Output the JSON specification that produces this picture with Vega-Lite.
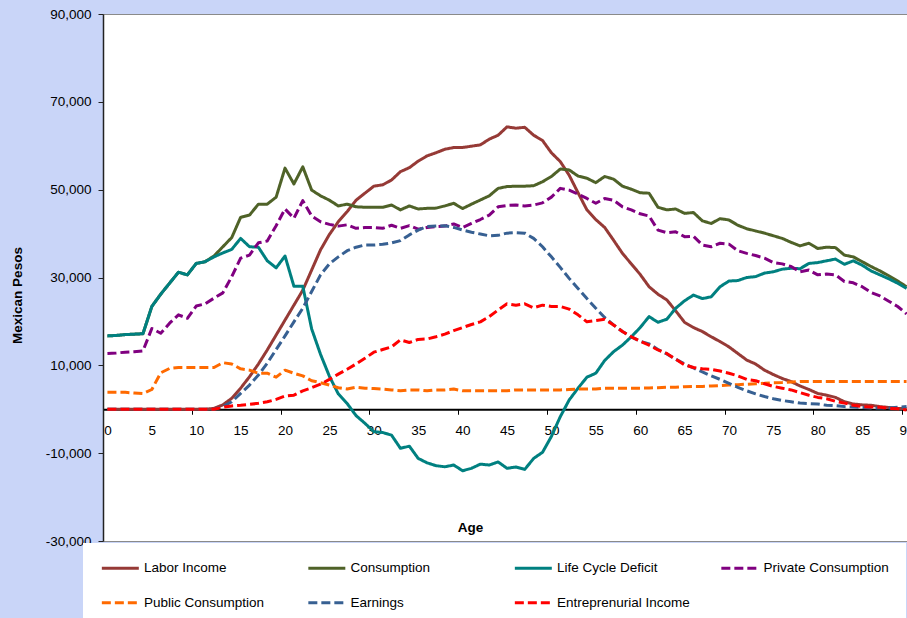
{
"$schema": "https://vega.github.io/schema/vega-lite/v6.json",
"width": 804,
"height": 527,
"autosize": {"type": "none"},
"padding": {"left": 103, "top": 14, "right": 0, "bottom": 77},
"background": "#c9d5f8",
"config": {"view": {"fill": "white", "stroke": "#8a8a8a", "strokeWidth": 1}, "font": "Liberation Sans",
 "legend": {"title": null, "orient": "none", "legendX": -20, "legendY": 529, "direction": "horizontal", "columns": 4, "gridAlign": "all",
  "columnPadding": 24.5, "rowPadding": 19.7, "padding": 17, "fillColor": "white", "symbolType": "M-1,0H5", "symbolSize": 152,
  "symbolStrokeWidth": 3, "labelFontSize": 13.5, "labelColor": "black", "labelOffset": 28, "labelLimit": 300}},
"data": {"values": [
{"age":0,"series":"Labor Income","value":0},{"age":1,"series":"Labor Income","value":0},{"age":2,"series":"Labor Income","value":0},{"age":3,"series":"Labor Income","value":0},{"age":4,"series":"Labor Income","value":0},{"age":5,"series":"Labor Income","value":0},{"age":6,"series":"Labor Income","value":0},{"age":7,"series":"Labor Income","value":0},{"age":8,"series":"Labor Income","value":0},{"age":9,"series":"Labor Income","value":0},{"age":10,"series":"Labor Income","value":0},{"age":11,"series":"Labor Income","value":0},{"age":12,"series":"Labor Income","value":200},{"age":13,"series":"Labor Income","value":1000},{"age":14,"series":"Labor Income","value":2500},{"age":15,"series":"Labor Income","value":4800},{"age":16,"series":"Labor Income","value":7400},{"age":17,"series":"Labor Income","value":10300},{"age":18,"series":"Labor Income","value":13500},{"age":19,"series":"Labor Income","value":16900},{"age":20,"series":"Labor Income","value":20300},{"age":21,"series":"Labor Income","value":23700},{"age":22,"series":"Labor Income","value":27100},{"age":23,"series":"Labor Income","value":31700},{"age":24,"series":"Labor Income","value":36300},{"age":25,"series":"Labor Income","value":39800},{"age":26,"series":"Labor Income","value":42700},{"age":27,"series":"Labor Income","value":45000},{"age":28,"series":"Labor Income","value":47600},{"age":29,"series":"Labor Income","value":49200},{"age":30,"series":"Labor Income","value":50800},{"age":31,"series":"Labor Income","value":51100},{"age":32,"series":"Labor Income","value":52200},{"age":33,"series":"Labor Income","value":54100},{"age":34,"series":"Labor Income","value":55000},{"age":35,"series":"Labor Income","value":56500},{"age":36,"series":"Labor Income","value":57700},{"age":37,"series":"Labor Income","value":58400},{"age":38,"series":"Labor Income","value":59200},{"age":39,"series":"Labor Income","value":59600},{"age":40,"series":"Labor Income","value":59600},{"age":41,"series":"Labor Income","value":59900},{"age":42,"series":"Labor Income","value":60200},{"age":43,"series":"Labor Income","value":61500},{"age":44,"series":"Labor Income","value":62400},{"age":45,"series":"Labor Income","value":64300},{"age":46,"series":"Labor Income","value":64000},{"age":47,"series":"Labor Income","value":64200},{"age":48,"series":"Labor Income","value":62400},{"age":49,"series":"Labor Income","value":61200},{"age":50,"series":"Labor Income","value":58400},{"age":51,"series":"Labor Income","value":56400},{"age":52,"series":"Labor Income","value":53300},{"age":53,"series":"Labor Income","value":49300},{"age":54,"series":"Labor Income","value":45400},{"age":55,"series":"Labor Income","value":43200},{"age":56,"series":"Labor Income","value":41400},{"age":57,"series":"Labor Income","value":38500},{"age":58,"series":"Labor Income","value":35500},{"age":59,"series":"Labor Income","value":33100},{"age":60,"series":"Labor Income","value":30700},{"age":61,"series":"Labor Income","value":27900},{"age":62,"series":"Labor Income","value":26200},{"age":63,"series":"Labor Income","value":24900},{"age":64,"series":"Labor Income","value":22400},{"age":65,"series":"Labor Income","value":19800},{"age":66,"series":"Labor Income","value":18600},{"age":67,"series":"Labor Income","value":17700},{"age":68,"series":"Labor Income","value":16500},{"age":69,"series":"Labor Income","value":15400},{"age":70,"series":"Labor Income","value":14200},{"age":71,"series":"Labor Income","value":12700},{"age":72,"series":"Labor Income","value":11200},{"age":73,"series":"Labor Income","value":10300},{"age":74,"series":"Labor Income","value":8900},{"age":75,"series":"Labor Income","value":7900},{"age":76,"series":"Labor Income","value":7000},{"age":77,"series":"Labor Income","value":6300},{"age":78,"series":"Labor Income","value":5300},{"age":79,"series":"Labor Income","value":4500},{"age":80,"series":"Labor Income","value":3600},{"age":81,"series":"Labor Income","value":3200},{"age":82,"series":"Labor Income","value":2700},{"age":83,"series":"Labor Income","value":1700},{"age":84,"series":"Labor Income","value":1200},{"age":85,"series":"Labor Income","value":1000},{"age":86,"series":"Labor Income","value":900},{"age":87,"series":"Labor Income","value":600},{"age":88,"series":"Labor Income","value":400},{"age":89,"series":"Labor Income","value":200},{"age":90,"series":"Labor Income","value":150},
{"age":0,"series":"Consumption","value":16700},{"age":1,"series":"Consumption","value":16800},{"age":2,"series":"Consumption","value":17000},{"age":3,"series":"Consumption","value":17100},{"age":4,"series":"Consumption","value":17200},{"age":5,"series":"Consumption","value":23400},{"age":6,"series":"Consumption","value":26200},{"age":7,"series":"Consumption","value":28700},{"age":8,"series":"Consumption","value":31200},{"age":9,"series":"Consumption","value":30600},{"age":10,"series":"Consumption","value":33200},{"age":11,"series":"Consumption","value":33600},{"age":12,"series":"Consumption","value":34900},{"age":13,"series":"Consumption","value":37000},{"age":14,"series":"Consumption","value":39100},{"age":15,"series":"Consumption","value":43700},{"age":16,"series":"Consumption","value":44200},{"age":17,"series":"Consumption","value":46700},{"age":18,"series":"Consumption","value":46700},{"age":19,"series":"Consumption","value":48300},{"age":20,"series":"Consumption","value":54900},{"age":21,"series":"Consumption","value":51300},{"age":22,"series":"Consumption","value":55200},{"age":23,"series":"Consumption","value":49900},{"age":24,"series":"Consumption","value":48600},{"age":25,"series":"Consumption","value":47600},{"age":26,"series":"Consumption","value":46300},{"age":27,"series":"Consumption","value":46700},{"age":28,"series":"Consumption","value":46100},{"age":29,"series":"Consumption","value":46000},{"age":30,"series":"Consumption","value":46000},{"age":31,"series":"Consumption","value":46000},{"age":32,"series":"Consumption","value":46500},{"age":33,"series":"Consumption","value":45400},{"age":34,"series":"Consumption","value":46300},{"age":35,"series":"Consumption","value":45600},{"age":36,"series":"Consumption","value":45750},{"age":37,"series":"Consumption","value":45800},{"age":38,"series":"Consumption","value":46300},{"age":39,"series":"Consumption","value":46900},{"age":40,"series":"Consumption","value":45700},{"age":41,"series":"Consumption","value":46700},{"age":42,"series":"Consumption","value":47650},{"age":43,"series":"Consumption","value":48600},{"age":44,"series":"Consumption","value":50300},{"age":45,"series":"Consumption","value":50700},{"age":46,"series":"Consumption","value":50800},{"age":47,"series":"Consumption","value":50800},{"age":48,"series":"Consumption","value":50900},{"age":49,"series":"Consumption","value":51800},{"age":50,"series":"Consumption","value":53000},{"age":51,"series":"Consumption","value":54700},{"age":52,"series":"Consumption","value":54500},{"age":53,"series":"Consumption","value":53100},{"age":54,"series":"Consumption","value":52600},{"age":55,"series":"Consumption","value":51600},{"age":56,"series":"Consumption","value":53000},{"age":57,"series":"Consumption","value":52400},{"age":58,"series":"Consumption","value":50800},{"age":59,"series":"Consumption","value":50100},{"age":60,"series":"Consumption","value":49300},{"age":61,"series":"Consumption","value":49200},{"age":62,"series":"Consumption","value":46000},{"age":63,"series":"Consumption","value":45400},{"age":64,"series":"Consumption","value":45600},{"age":65,"series":"Consumption","value":44600},{"age":66,"series":"Consumption","value":44800},{"age":67,"series":"Consumption","value":42900},{"age":68,"series":"Consumption","value":42300},{"age":69,"series":"Consumption","value":43400},{"age":70,"series":"Consumption","value":43100},{"age":71,"series":"Consumption","value":41900},{"age":72,"series":"Consumption","value":41100},{"age":73,"series":"Consumption","value":40600},{"age":74,"series":"Consumption","value":40100},{"age":75,"series":"Consumption","value":39500},{"age":76,"series":"Consumption","value":38900},{"age":77,"series":"Consumption","value":38000},{"age":78,"series":"Consumption","value":37200},{"age":79,"series":"Consumption","value":37800},{"age":80,"series":"Consumption","value":36600},{"age":81,"series":"Consumption","value":36900},{"age":82,"series":"Consumption","value":36800},{"age":83,"series":"Consumption","value":35100},{"age":84,"series":"Consumption","value":34700},{"age":85,"series":"Consumption","value":33600},{"age":86,"series":"Consumption","value":32500},{"age":87,"series":"Consumption","value":31500},{"age":88,"series":"Consumption","value":30400},{"age":89,"series":"Consumption","value":29200},{"age":90,"series":"Consumption","value":27900},
{"age":0,"series":"Life Cycle Deficit","value":16700},{"age":1,"series":"Life Cycle Deficit","value":16800},{"age":2,"series":"Life Cycle Deficit","value":17000},{"age":3,"series":"Life Cycle Deficit","value":17100},{"age":4,"series":"Life Cycle Deficit","value":17200},{"age":5,"series":"Life Cycle Deficit","value":23400},{"age":6,"series":"Life Cycle Deficit","value":26200},{"age":7,"series":"Life Cycle Deficit","value":28700},{"age":8,"series":"Life Cycle Deficit","value":31200},{"age":9,"series":"Life Cycle Deficit","value":30600},{"age":10,"series":"Life Cycle Deficit","value":33200},{"age":11,"series":"Life Cycle Deficit","value":33600},{"age":12,"series":"Life Cycle Deficit","value":34700},{"age":13,"series":"Life Cycle Deficit","value":35600},{"age":14,"series":"Life Cycle Deficit","value":36400},{"age":15,"series":"Life Cycle Deficit","value":38900},{"age":16,"series":"Life Cycle Deficit","value":37000},{"age":17,"series":"Life Cycle Deficit","value":36900},{"age":18,"series":"Life Cycle Deficit","value":33800},{"age":19,"series":"Life Cycle Deficit","value":32200},{"age":20,"series":"Life Cycle Deficit","value":34900},{"age":21,"series":"Life Cycle Deficit","value":28000},{"age":22,"series":"Life Cycle Deficit","value":28000},{"age":23,"series":"Life Cycle Deficit","value":18300},{"age":24,"series":"Life Cycle Deficit","value":12500},{"age":25,"series":"Life Cycle Deficit","value":7500},{"age":26,"series":"Life Cycle Deficit","value":3500},{"age":27,"series":"Life Cycle Deficit","value":1300},{"age":28,"series":"Life Cycle Deficit","value":-1450},{"age":29,"series":"Life Cycle Deficit","value":-3200},{"age":30,"series":"Life Cycle Deficit","value":-5100},{"age":31,"series":"Life Cycle Deficit","value":-5300},{"age":32,"series":"Life Cycle Deficit","value":-5900},{"age":33,"series":"Life Cycle Deficit","value":-8900},{"age":34,"series":"Life Cycle Deficit","value":-8400},{"age":35,"series":"Life Cycle Deficit","value":-11200},{"age":36,"series":"Life Cycle Deficit","value":-12200},{"age":37,"series":"Life Cycle Deficit","value":-12850},{"age":38,"series":"Life Cycle Deficit","value":-13100},{"age":39,"series":"Life Cycle Deficit","value":-12700},{"age":40,"series":"Life Cycle Deficit","value":-14000},{"age":41,"series":"Life Cycle Deficit","value":-13450},{"age":42,"series":"Life Cycle Deficit","value":-12500},{"age":43,"series":"Life Cycle Deficit","value":-12700},{"age":44,"series":"Life Cycle Deficit","value":-12000},{"age":45,"series":"Life Cycle Deficit","value":-13450},{"age":46,"series":"Life Cycle Deficit","value":-13150},{"age":47,"series":"Life Cycle Deficit","value":-13700},{"age":48,"series":"Life Cycle Deficit","value":-11200},{"age":49,"series":"Life Cycle Deficit","value":-9800},{"age":50,"series":"Life Cycle Deficit","value":-6200},{"age":51,"series":"Life Cycle Deficit","value":-1700},{"age":52,"series":"Life Cycle Deficit","value":2100},{"age":53,"series":"Life Cycle Deficit","value":4800},{"age":54,"series":"Life Cycle Deficit","value":7300},{"age":55,"series":"Life Cycle Deficit","value":8200},{"age":56,"series":"Life Cycle Deficit","value":11100},{"age":57,"series":"Life Cycle Deficit","value":13100},{"age":58,"series":"Life Cycle Deficit","value":14600},{"age":59,"series":"Life Cycle Deficit","value":16500},{"age":60,"series":"Life Cycle Deficit","value":18600},{"age":61,"series":"Life Cycle Deficit","value":21100},{"age":62,"series":"Life Cycle Deficit","value":19800},{"age":63,"series":"Life Cycle Deficit","value":20500},{"age":64,"series":"Life Cycle Deficit","value":23000},{"age":65,"series":"Life Cycle Deficit","value":24700},{"age":66,"series":"Life Cycle Deficit","value":26000},{"age":67,"series":"Life Cycle Deficit","value":25200},{"age":68,"series":"Life Cycle Deficit","value":25600},{"age":69,"series":"Life Cycle Deficit","value":27900},{"age":70,"series":"Life Cycle Deficit","value":29200},{"age":71,"series":"Life Cycle Deficit","value":29300},{"age":72,"series":"Life Cycle Deficit","value":30000},{"age":73,"series":"Life Cycle Deficit","value":30200},{"age":74,"series":"Life Cycle Deficit","value":31000},{"age":75,"series":"Life Cycle Deficit","value":31300},{"age":76,"series":"Life Cycle Deficit","value":31900},{"age":77,"series":"Life Cycle Deficit","value":32100},{"age":78,"series":"Life Cycle Deficit","value":32000},{"age":79,"series":"Life Cycle Deficit","value":33200},{"age":80,"series":"Life Cycle Deficit","value":33400},{"age":81,"series":"Life Cycle Deficit","value":33800},{"age":82,"series":"Life Cycle Deficit","value":34200},{"age":83,"series":"Life Cycle Deficit","value":33000},{"age":84,"series":"Life Cycle Deficit","value":33800},{"age":85,"series":"Life Cycle Deficit","value":32800},{"age":86,"series":"Life Cycle Deficit","value":31500},{"age":87,"series":"Life Cycle Deficit","value":30600},{"age":88,"series":"Life Cycle Deficit","value":29700},{"age":89,"series":"Life Cycle Deficit","value":28700},{"age":90,"series":"Life Cycle Deficit","value":27500},
{"age":0,"series":"Private Consumption","value":12700},{"age":1,"series":"Private Consumption","value":12800},{"age":2,"series":"Private Consumption","value":13000},{"age":3,"series":"Private Consumption","value":13100},{"age":4,"series":"Private Consumption","value":13300},{"age":5,"series":"Private Consumption","value":18400},{"age":6,"series":"Private Consumption","value":17300},{"age":7,"series":"Private Consumption","value":19600},{"age":8,"series":"Private Consumption","value":21500},{"age":9,"series":"Private Consumption","value":20700},{"age":10,"series":"Private Consumption","value":23500},{"age":11,"series":"Private Consumption","value":24000},{"age":12,"series":"Private Consumption","value":25300},{"age":13,"series":"Private Consumption","value":26500},{"age":14,"series":"Private Consumption","value":30200},{"age":15,"series":"Private Consumption","value":34400},{"age":16,"series":"Private Consumption","value":35100},{"age":17,"series":"Private Consumption","value":37900},{"age":18,"series":"Private Consumption","value":38300},{"age":19,"series":"Private Consumption","value":41800},{"age":20,"series":"Private Consumption","value":45600},{"age":21,"series":"Private Consumption","value":43500},{"age":22,"series":"Private Consumption","value":47500},{"age":23,"series":"Private Consumption","value":44000},{"age":24,"series":"Private Consumption","value":42700},{"age":25,"series":"Private Consumption","value":42100},{"age":26,"series":"Private Consumption","value":41700},{"age":27,"series":"Private Consumption","value":42000},{"age":28,"series":"Private Consumption","value":41200},{"age":29,"series":"Private Consumption","value":41400},{"age":30,"series":"Private Consumption","value":41400},{"age":31,"series":"Private Consumption","value":41200},{"age":32,"series":"Private Consumption","value":41900},{"age":33,"series":"Private Consumption","value":41200},{"age":34,"series":"Private Consumption","value":41800},{"age":35,"series":"Private Consumption","value":41000},{"age":36,"series":"Private Consumption","value":41400},{"age":37,"series":"Private Consumption","value":41600},{"age":38,"series":"Private Consumption","value":41700},{"age":39,"series":"Private Consumption","value":42200},{"age":40,"series":"Private Consumption","value":41400},{"age":41,"series":"Private Consumption","value":42300},{"age":42,"series":"Private Consumption","value":43200},{"age":43,"series":"Private Consumption","value":44200},{"age":44,"series":"Private Consumption","value":46100},{"age":45,"series":"Private Consumption","value":46400},{"age":46,"series":"Private Consumption","value":46500},{"age":47,"series":"Private Consumption","value":46300},{"age":48,"series":"Private Consumption","value":46500},{"age":49,"series":"Private Consumption","value":47000},{"age":50,"series":"Private Consumption","value":48300},{"age":51,"series":"Private Consumption","value":50300},{"age":52,"series":"Private Consumption","value":49900},{"age":53,"series":"Private Consumption","value":49000},{"age":54,"series":"Private Consumption","value":48000},{"age":55,"series":"Private Consumption","value":46900},{"age":56,"series":"Private Consumption","value":48000},{"age":57,"series":"Private Consumption","value":47600},{"age":58,"series":"Private Consumption","value":46100},{"age":59,"series":"Private Consumption","value":45400},{"age":60,"series":"Private Consumption","value":44500},{"age":61,"series":"Private Consumption","value":44000},{"age":62,"series":"Private Consumption","value":40800},{"age":63,"series":"Private Consumption","value":40200},{"age":64,"series":"Private Consumption","value":40400},{"age":65,"series":"Private Consumption","value":39300},{"age":66,"series":"Private Consumption","value":39400},{"age":67,"series":"Private Consumption","value":37400},{"age":68,"series":"Private Consumption","value":37000},{"age":69,"series":"Private Consumption","value":37800},{"age":70,"series":"Private Consumption","value":37600},{"age":71,"series":"Private Consumption","value":36100},{"age":72,"series":"Private Consumption","value":35500},{"age":73,"series":"Private Consumption","value":35000},{"age":74,"series":"Private Consumption","value":34400},{"age":75,"series":"Private Consumption","value":33400},{"age":76,"series":"Private Consumption","value":33100},{"age":77,"series":"Private Consumption","value":32500},{"age":78,"series":"Private Consumption","value":31300},{"age":79,"series":"Private Consumption","value":31700},{"age":80,"series":"Private Consumption","value":30600},{"age":81,"series":"Private Consumption","value":30800},{"age":82,"series":"Private Consumption","value":30600},{"age":83,"series":"Private Consumption","value":29100},{"age":84,"series":"Private Consumption","value":28800},{"age":85,"series":"Private Consumption","value":27900},{"age":86,"series":"Private Consumption","value":26600},{"age":87,"series":"Private Consumption","value":25800},{"age":88,"series":"Private Consumption","value":24600},{"age":89,"series":"Private Consumption","value":23400},{"age":90,"series":"Private Consumption","value":21700},
{"age":0,"series":"Public Consumption","value":3850},{"age":1,"series":"Public Consumption","value":3850},{"age":2,"series":"Public Consumption","value":3850},{"age":3,"series":"Public Consumption","value":3700},{"age":4,"series":"Public Consumption","value":3550},{"age":5,"series":"Public Consumption","value":4500},{"age":6,"series":"Public Consumption","value":8300},{"age":7,"series":"Public Consumption","value":9300},{"age":8,"series":"Public Consumption","value":9500},{"age":9,"series":"Public Consumption","value":9500},{"age":10,"series":"Public Consumption","value":9500},{"age":11,"series":"Public Consumption","value":9500},{"age":12,"series":"Public Consumption","value":9500},{"age":13,"series":"Public Consumption","value":10600},{"age":14,"series":"Public Consumption","value":10300},{"age":15,"series":"Public Consumption","value":9200},{"age":16,"series":"Public Consumption","value":8900},{"age":17,"series":"Public Consumption","value":8200},{"age":18,"series":"Public Consumption","value":8200},{"age":19,"series":"Public Consumption","value":7300},{"age":20,"series":"Public Consumption","value":8900},{"age":21,"series":"Public Consumption","value":8200},{"age":22,"series":"Public Consumption","value":7600},{"age":23,"series":"Public Consumption","value":6500},{"age":24,"series":"Public Consumption","value":6050},{"age":25,"series":"Public Consumption","value":5500},{"age":26,"series":"Public Consumption","value":4900},{"age":27,"series":"Public Consumption","value":4600},{"age":28,"series":"Public Consumption","value":5000},{"age":29,"series":"Public Consumption","value":4800},{"age":30,"series":"Public Consumption","value":4700},{"age":31,"series":"Public Consumption","value":4600},{"age":32,"series":"Public Consumption","value":4400},{"age":33,"series":"Public Consumption","value":4200},{"age":34,"series":"Public Consumption","value":4400},{"age":35,"series":"Public Consumption","value":4400},{"age":36,"series":"Public Consumption","value":4200},{"age":37,"series":"Public Consumption","value":4400},{"age":38,"series":"Public Consumption","value":4400},{"age":39,"series":"Public Consumption","value":4600},{"age":40,"series":"Public Consumption","value":4200},{"age":41,"series":"Public Consumption","value":4200},{"age":42,"series":"Public Consumption","value":4200},{"age":43,"series":"Public Consumption","value":4200},{"age":44,"series":"Public Consumption","value":4200},{"age":45,"series":"Public Consumption","value":4200},{"age":46,"series":"Public Consumption","value":4400},{"age":47,"series":"Public Consumption","value":4400},{"age":48,"series":"Public Consumption","value":4400},{"age":49,"series":"Public Consumption","value":4400},{"age":50,"series":"Public Consumption","value":4400},{"age":51,"series":"Public Consumption","value":4400},{"age":52,"series":"Public Consumption","value":4500},{"age":53,"series":"Public Consumption","value":4600},{"age":54,"series":"Public Consumption","value":4600},{"age":55,"series":"Public Consumption","value":4600},{"age":56,"series":"Public Consumption","value":4800},{"age":57,"series":"Public Consumption","value":4800},{"age":58,"series":"Public Consumption","value":4800},{"age":59,"series":"Public Consumption","value":4800},{"age":60,"series":"Public Consumption","value":4800},{"age":61,"series":"Public Consumption","value":4850},{"age":62,"series":"Public Consumption","value":4900},{"age":63,"series":"Public Consumption","value":5000},{"age":64,"series":"Public Consumption","value":5000},{"age":65,"series":"Public Consumption","value":5150},{"age":66,"series":"Public Consumption","value":5200},{"age":67,"series":"Public Consumption","value":5200},{"age":68,"series":"Public Consumption","value":5300},{"age":69,"series":"Public Consumption","value":5400},{"age":70,"series":"Public Consumption","value":5500},{"age":71,"series":"Public Consumption","value":5600},{"age":72,"series":"Public Consumption","value":5700},{"age":73,"series":"Public Consumption","value":5800},{"age":74,"series":"Public Consumption","value":5900},{"age":75,"series":"Public Consumption","value":6050},{"age":76,"series":"Public Consumption","value":6100},{"age":77,"series":"Public Consumption","value":6200},{"age":78,"series":"Public Consumption","value":6300},{"age":79,"series":"Public Consumption","value":6300},{"age":80,"series":"Public Consumption","value":6300},{"age":81,"series":"Public Consumption","value":6300},{"age":82,"series":"Public Consumption","value":6300},{"age":83,"series":"Public Consumption","value":6300},{"age":84,"series":"Public Consumption","value":6300},{"age":85,"series":"Public Consumption","value":6300},{"age":86,"series":"Public Consumption","value":6300},{"age":87,"series":"Public Consumption","value":6300},{"age":88,"series":"Public Consumption","value":6300},{"age":89,"series":"Public Consumption","value":6300},{"age":90,"series":"Public Consumption","value":6300},
{"age":0,"series":"Earnings","value":0},{"age":1,"series":"Earnings","value":0},{"age":2,"series":"Earnings","value":0},{"age":3,"series":"Earnings","value":0},{"age":4,"series":"Earnings","value":0},{"age":5,"series":"Earnings","value":0},{"age":6,"series":"Earnings","value":0},{"age":7,"series":"Earnings","value":0},{"age":8,"series":"Earnings","value":0},{"age":9,"series":"Earnings","value":0},{"age":10,"series":"Earnings","value":0},{"age":11,"series":"Earnings","value":0},{"age":12,"series":"Earnings","value":0},{"age":13,"series":"Earnings","value":600},{"age":14,"series":"Earnings","value":1700},{"age":15,"series":"Earnings","value":3600},{"age":16,"series":"Earnings","value":5500},{"age":17,"series":"Earnings","value":7800},{"age":18,"series":"Earnings","value":10500},{"age":19,"series":"Earnings","value":13600},{"age":20,"series":"Earnings","value":16700},{"age":21,"series":"Earnings","value":19900},{"age":22,"series":"Earnings","value":23000},{"age":23,"series":"Earnings","value":26800},{"age":24,"series":"Earnings","value":30600},{"age":25,"series":"Earnings","value":33100},{"age":26,"series":"Earnings","value":34700},{"age":27,"series":"Earnings","value":36100},{"age":28,"series":"Earnings","value":36900},{"age":29,"series":"Earnings","value":37400},{"age":30,"series":"Earnings","value":37400},{"age":31,"series":"Earnings","value":37550},{"age":32,"series":"Earnings","value":37900},{"age":33,"series":"Earnings","value":38400},{"age":34,"series":"Earnings","value":39700},{"age":35,"series":"Earnings","value":40800},{"age":36,"series":"Earnings","value":41600},{"age":37,"series":"Earnings","value":41700},{"age":38,"series":"Earnings","value":41800},{"age":39,"series":"Earnings","value":41400},{"age":40,"series":"Earnings","value":40800},{"age":41,"series":"Earnings","value":40300},{"age":42,"series":"Earnings","value":39900},{"age":43,"series":"Earnings","value":39500},{"age":44,"series":"Earnings","value":39600},{"age":45,"series":"Earnings","value":40100},{"age":46,"series":"Earnings","value":40200},{"age":47,"series":"Earnings","value":40100},{"age":48,"series":"Earnings","value":38900},{"age":49,"series":"Earnings","value":37000},{"age":50,"series":"Earnings","value":34700},{"age":51,"series":"Earnings","value":32300},{"age":52,"series":"Earnings","value":29800},{"age":53,"series":"Earnings","value":27500},{"age":54,"series":"Earnings","value":25200},{"age":55,"series":"Earnings","value":23000},{"age":56,"series":"Earnings","value":20900},{"age":57,"series":"Earnings","value":19200},{"age":58,"series":"Earnings","value":17700},{"age":59,"series":"Earnings","value":16500},{"age":60,"series":"Earnings","value":15500},{"age":61,"series":"Earnings","value":14900},{"age":62,"series":"Earnings","value":13600},{"age":63,"series":"Earnings","value":12600},{"age":64,"series":"Earnings","value":11400},{"age":65,"series":"Earnings","value":10300},{"age":66,"series":"Earnings","value":9400},{"age":67,"series":"Earnings","value":8500},{"age":68,"series":"Earnings","value":7600},{"age":69,"series":"Earnings","value":6800},{"age":70,"series":"Earnings","value":5900},{"age":71,"series":"Earnings","value":5000},{"age":72,"series":"Earnings","value":4200},{"age":73,"series":"Earnings","value":3500},{"age":74,"series":"Earnings","value":2900},{"age":75,"series":"Earnings","value":2400},{"age":76,"series":"Earnings","value":2000},{"age":77,"series":"Earnings","value":1700},{"age":78,"series":"Earnings","value":1400},{"age":79,"series":"Earnings","value":1300},{"age":80,"series":"Earnings","value":1200},{"age":81,"series":"Earnings","value":900},{"age":82,"series":"Earnings","value":800},{"age":83,"series":"Earnings","value":600},{"age":84,"series":"Earnings","value":500},{"age":85,"series":"Earnings","value":400},{"age":86,"series":"Earnings","value":300},{"age":87,"series":"Earnings","value":300},{"age":88,"series":"Earnings","value":300},{"age":89,"series":"Earnings","value":450},{"age":90,"series":"Earnings","value":600},
{"age":0,"series":"Entreprenurial Income","value":0},{"age":1,"series":"Entreprenurial Income","value":0},{"age":2,"series":"Entreprenurial Income","value":0},{"age":3,"series":"Entreprenurial Income","value":0},{"age":4,"series":"Entreprenurial Income","value":0},{"age":5,"series":"Entreprenurial Income","value":0},{"age":6,"series":"Entreprenurial Income","value":0},{"age":7,"series":"Entreprenurial Income","value":0},{"age":8,"series":"Entreprenurial Income","value":0},{"age":9,"series":"Entreprenurial Income","value":0},{"age":10,"series":"Entreprenurial Income","value":0},{"age":11,"series":"Entreprenurial Income","value":0},{"age":12,"series":"Entreprenurial Income","value":0},{"age":13,"series":"Entreprenurial Income","value":450},{"age":14,"series":"Entreprenurial Income","value":750},{"age":15,"series":"Entreprenurial Income","value":900},{"age":16,"series":"Entreprenurial Income","value":1100},{"age":17,"series":"Entreprenurial Income","value":1350},{"age":18,"series":"Entreprenurial Income","value":1700},{"age":19,"series":"Entreprenurial Income","value":2250},{"age":20,"series":"Entreprenurial Income","value":3000},{"age":21,"series":"Entreprenurial Income","value":3200},{"age":22,"series":"Entreprenurial Income","value":4200},{"age":23,"series":"Entreprenurial Income","value":4900},{"age":24,"series":"Entreprenurial Income","value":5700},{"age":25,"series":"Entreprenurial Income","value":6800},{"age":26,"series":"Entreprenurial Income","value":8000},{"age":27,"series":"Entreprenurial Income","value":9100},{"age":28,"series":"Entreprenurial Income","value":10300},{"age":29,"series":"Entreprenurial Income","value":11600},{"age":30,"series":"Entreprenurial Income","value":13000},{"age":31,"series":"Entreprenurial Income","value":13600},{"age":32,"series":"Entreprenurial Income","value":14200},{"age":33,"series":"Entreprenurial Income","value":15800},{"age":34,"series":"Entreprenurial Income","value":15200},{"age":35,"series":"Entreprenurial Income","value":15900},{"age":36,"series":"Entreprenurial Income","value":16000},{"age":37,"series":"Entreprenurial Income","value":16500},{"age":38,"series":"Entreprenurial Income","value":17100},{"age":39,"series":"Entreprenurial Income","value":17900},{"age":40,"series":"Entreprenurial Income","value":18600},{"age":41,"series":"Entreprenurial Income","value":19300},{"age":42,"series":"Entreprenurial Income","value":19900},{"age":43,"series":"Entreprenurial Income","value":21100},{"age":44,"series":"Entreprenurial Income","value":22600},{"age":45,"series":"Entreprenurial Income","value":24000},{"age":46,"series":"Entreprenurial Income","value":23700},{"age":47,"series":"Entreprenurial Income","value":24000},{"age":48,"series":"Entreprenurial Income","value":23100},{"age":49,"series":"Entreprenurial Income","value":23700},{"age":50,"series":"Entreprenurial Income","value":23400},{"age":51,"series":"Entreprenurial Income","value":23400},{"age":52,"series":"Entreprenurial Income","value":22800},{"age":53,"series":"Entreprenurial Income","value":21500},{"age":54,"series":"Entreprenurial Income","value":19900},{"age":55,"series":"Entreprenurial Income","value":20200},{"age":56,"series":"Entreprenurial Income","value":20500},{"age":57,"series":"Entreprenurial Income","value":19200},{"age":58,"series":"Entreprenurial Income","value":17700},{"age":59,"series":"Entreprenurial Income","value":16500},{"age":60,"series":"Entreprenurial Income","value":15500},{"age":61,"series":"Entreprenurial Income","value":14600},{"age":62,"series":"Entreprenurial Income","value":13500},{"age":63,"series":"Entreprenurial Income","value":12700},{"age":64,"series":"Entreprenurial Income","value":11400},{"age":65,"series":"Entreprenurial Income","value":10100},{"age":66,"series":"Entreprenurial Income","value":9500},{"age":67,"series":"Entreprenurial Income","value":9200},{"age":68,"series":"Entreprenurial Income","value":9100},{"age":69,"series":"Entreprenurial Income","value":8700},{"age":70,"series":"Entreprenurial Income","value":8200},{"age":71,"series":"Entreprenurial Income","value":7600},{"age":72,"series":"Entreprenurial Income","value":6800},{"age":73,"series":"Entreprenurial Income","value":6500},{"age":74,"series":"Entreprenurial Income","value":5800},{"age":75,"series":"Entreprenurial Income","value":5200},{"age":76,"series":"Entreprenurial Income","value":4800},{"age":77,"series":"Entreprenurial Income","value":4400},{"age":78,"series":"Entreprenurial Income","value":3800},{"age":79,"series":"Entreprenurial Income","value":3200},{"age":80,"series":"Entreprenurial Income","value":2700},{"age":81,"series":"Entreprenurial Income","value":2400},{"age":82,"series":"Entreprenurial Income","value":1800},{"age":83,"series":"Entreprenurial Income","value":1400},{"age":84,"series":"Entreprenurial Income","value":900},{"age":85,"series":"Entreprenurial Income","value":600},{"age":86,"series":"Entreprenurial Income","value":500},{"age":87,"series":"Entreprenurial Income","value":450},{"age":88,"series":"Entreprenurial Income","value":200},{"age":89,"series":"Entreprenurial Income","value":100},{"age":90,"series":"Entreprenurial Income","value":-150}
]},
"mark": {"type": "line", "strokeWidth": 3, "clip": true, "strokeJoin": "round"},
"encoding": {
"x": {"field": "age", "type": "quantitative",
 "scale": {"domain": [-0.5, 90.05], "nice": false, "zero": false},
 "axis": {"title": "Age", "values": [0,5,10,15,20,25,30,35,40,45,50,55,60,65,70,75,80,85,90],
  "offset": -131.75, "grid": false, "domainColor": "black", "domainWidth": 2,
  "tickColor": "black", "tickSize": 5, "tickWidth": 1, "tickOffset": -4.44, "labelOffset": 4.44,
  "tickOpacity": {"condition": {"test": "datum.value % 10 === 0 && datum.value > 0", "value": 1}, "value": 0},
  "labelFontSize": 13.5, "labelColor": "black", "labelPadding": 9, "labelFlush": false, "labelOverlap": false, "labelBound": false,
  "titleFontSize": 13.5, "titleFontWeight": "bold", "titleColor": "black",
  "titleX": 367, "titleY": 118, "titleAlign": "center", "titleBaseline": "middle"}},
"y": {"field": "value", "type": "quantitative",
 "scale": {"domain": [-30000, 90000], "nice": false, "zero": false},
 "axis": {"title": "Mexican Pesos", "values": [-30000,-10000,10000,30000,50000,70000,90000],
  "labelExpr": "(datum.value < 0 ? '-' : '') + format(abs(datum.value), ',')",
  "grid": false, "domainColor": "#222222", "domainWidth": 1.5, "tickColor": "#222222", "tickSize": 5,
  "labelFontSize": 13.5, "labelColor": "black", "labelPadding": 7,
  "titleFontSize": 13.5, "titleFontWeight": "bold", "titleColor": "black",
  "titleX": -86, "titleY": 281, "titleAngle": 270, "titleAlign": "center", "titleBaseline": "middle"}},
"color": {"field": "series", "type": "nominal",
 "scale": {"domain": ["Labor Income","Consumption","Life Cycle Deficit","Private Consumption","Public Consumption","Earnings","Entreprenurial Income"],
  "range": ["#963a36","#4f6228","#008080","#800080","#ff6a00","#376092","#ff0000"]},
 "legend": {"title": null, "encode": {"symbols": {"update": {"strokeDash": [{"test": "indexof(['Labor Income','Consumption','Life Cycle Deficit'], datum.value) >= 0", "value": [1, 0]}, {"value": [5, 2.5]}]}}}}},
"strokeDash": {"field": "series", "type": "nominal",
 "scale": {"domain": ["Labor Income","Consumption","Life Cycle Deficit","Private Consumption","Public Consumption","Earnings","Entreprenurial Income"],
  "range": [[1,0],[1,0],[1,0],[9,4],[9,4],[9,4],[9,4]]},
 "legend": {"title": null, "encode": {"symbols": {"update": {"strokeDash": [{"test": "indexof(['Labor Income','Consumption','Life Cycle Deficit'], datum.value) >= 0", "value": [1, 0]}, {"value": [5, 2.5]}]}}}}}
}
}
